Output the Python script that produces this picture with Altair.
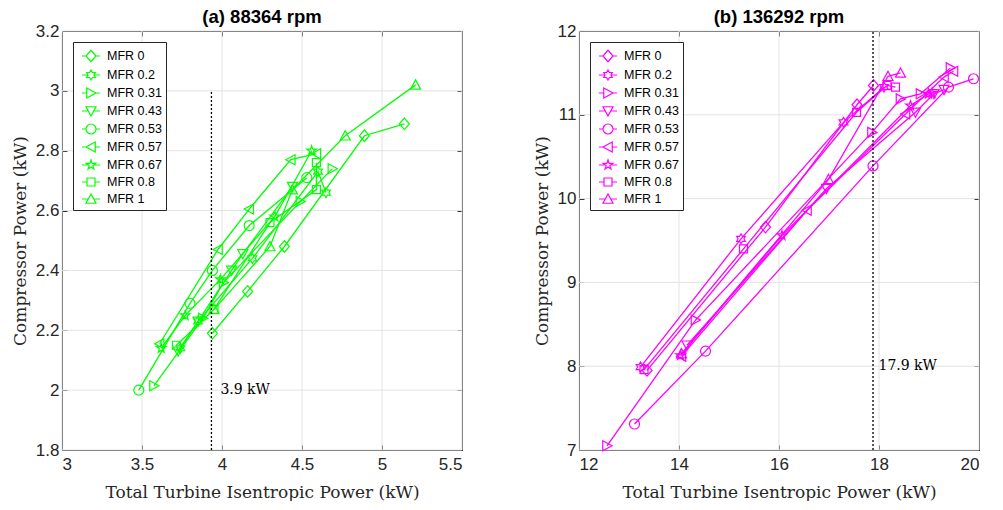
import re
import altair as alt
import pandas as pd

SERIES = ["MFR 0", "MFR 0.2", "MFR 0.31", "MFR 0.43", "MFR 0.53",
          "MFR 0.57", "MFR 0.67", "MFR 0.8", "MFR 1"]

# ---- panel (a) 88364 rpm ----
left_x = {
    "MFR 0":    [3.94, 4.16, 4.39, 4.89, 5.14],
    "MFR 0.2":  [3.74, 3.85, 4.19, 4.60, 4.65],
    "MFR 0.31": [3.575, 3.88, 4.01, 4.49, 4.69],
    "MFR 0.43": [3.725, 3.85, 4.06, 4.13, 4.44],
    "MFR 0.53": [3.48, 3.80, 3.94, 4.17, 4.53],
    "MFR 0.57": [3.61, 3.975, 4.17, 4.43, 4.59],
    "MFR 0.67": [3.62, 3.77, 3.99, 4.33, 4.56],
    "MFR 0.8":  [3.715, 3.95, 4.30, 4.59, 4.59],
    "MFR 1":    [3.95, 4.30, 4.44, 4.77, 5.21],
}
left_y = {
    "MFR 0":    [2.19, 2.33, 2.48, 2.85, 2.89],
    "MFR 0.2":  [2.14, 2.23, 2.44, 2.73, 2.66],
    "MFR 0.31": [2.015, 2.24, 2.36, 2.63, 2.74],
    "MFR 0.43": [2.13, 2.23, 2.40, 2.455, 2.68],
    "MFR 0.53": [2.0, 2.29, 2.40, 2.55, 2.71],
    "MFR 0.57": [2.155, 2.47, 2.605, 2.77, 2.79],
    "MFR 0.67": [2.14, 2.25, 2.37, 2.58, 2.80],
    "MFR 0.8":  [2.15, 2.27, 2.56, 2.67, 2.76],
    "MFR 1":    [2.27, 2.48, 2.67, 2.85, 3.02],
}
left_x_ticks = [3, 3.5, 4, 4.5, 5, 5.5]
left_y_ticks = [1.8, 2, 2.2, 2.4, 2.6, 2.8, 3, 3.2]
left_vline = [3.934]
left_vline_y = [1.8, 3.0]
left_label = ["3.9 kW"]
left_label_pos = [3.99, 2.0]

# ---- panel (b) 136292 rpm ----
right_x = {
    "MFR 0":    [13.36, 15.73, 17.56, 17.89],
    "MFR 0.2":  [13.23, 15.24, 17.29, 18.10],
    "MFR 0.31": [12.56, 14.33, 17.86, 18.43, 18.83, 19.43],
    "MFR 0.43": [14.16, 16.95, 18.73, 19.10, 19.30],
    "MFR 0.53": [13.11, 14.53, 17.88, 19.39, 19.89],
    "MFR 0.57": [14.05, 16.56, 18.53, 19.30, 19.49],
    "MFR 0.67": [14.03, 16.06, 18.63, 18.99, 19.06],
    "MFR 0.8":  [13.30, 15.29, 17.55, 18.16, 18.33],
    "MFR 1":    [14.05, 16.99, 18.18, 18.43],
}
right_y = {
    "MFR 0":    [7.95, 9.66, 11.12, 11.35],
    "MFR 0.2":  [7.99, 9.52, 10.91, 11.33],
    "MFR 0.31": [7.05, 8.55, 10.79, 11.19, 11.25, 11.56],
    "MFR 0.43": [8.25, 10.12, 11.03, 11.25, 11.30],
    "MFR 0.53": [7.31, 8.18, 10.39, 11.33, 11.43],
    "MFR 0.57": [8.12, 9.86, 11.01, 11.45, 11.52],
    "MFR 0.67": [8.13, 9.56, 11.11, 11.25, 11.26],
    "MFR 0.8":  [7.96, 9.40, 11.03, 11.35, 11.33],
    "MFR 1":    [8.15, 10.23, 11.46, 11.50],
}
right_x_ticks = [12, 14, 16, 18, 20]
right_y_ticks = [7, 8, 9, 10, 11, 12]
right_vline = [17.88]
right_vline_y = [7, 12]
right_label = ["17.9 kW"]
right_label_pos = [17.99, 8.0]

# ---- marker shapes (unit box) ----
MARKERS = [
    "M0,-1.15L1,0L0,1.15L-1,0Z",
    "M0,-1L0.289,-0.5L0.866,-0.5L0.577,0L0.866,0.5L0.289,0.5L0,1L-0.289,0.5L-0.866,0.5L-0.577,0L-0.866,-0.5L-0.289,-0.5Z",
    "M-0.85,-1L1,0L-0.85,1Z",
    "M-1,-0.85L1,-0.85L0,1Z",
    "M-1,0A1,1,0,1,1,1,0A1,1,0,1,1,-1,0Z",
    "M0.85,-1L-1,0L0.85,1Z",
    "M0,-1L0.225,-0.309L0.951,-0.309L0.363,0.118L0.588,0.809L0,0.382L-0.588,0.809L-0.363,0.118L-0.951,-0.309L-0.225,-0.309Z",
    "M-0.8,-0.8L0.8,-0.8L0.8,0.8L-0.8,0.8Z",
    "M-1,0.85L1,0.85L0,-1Z",
]
STUB_ENDS = [(-1, 1), (-0.577, 0.577), (-0.85, 1), (-0.54, 0.54), (-1, 1),
             (-1, 0.85), (-0.525, 0.525), (-0.8, 0.8), (-0.54, 0.54)]


def _scaled(path, k):
    out = []
    for cmd, args in re.findall(r"([MLAZ])([^MLAZ]*)", path):
        nums = [float(v) for v in re.split(r"[ ,]+", args.strip()) if v]
        if cmd == "A":
            rx, ry, rot, la, sw, x, y = nums
            vals = [rx * k, ry * k, rot, int(la), int(sw), x * k, y * k]
            out.append("A" + ",".join(f"{v:.4g}" if isinstance(v, float)
                                      else str(v) for v in vals))
        elif cmd == "Z":
            out.append("Z")
        else:
            out.append(cmd + ",".join(f"{v * k:.4g}" for v in nums))
    return "".join(out)


K = 5 / 9
LEGEND_SYMBOLS = [
    f"M-1,0L{a * K:.4g},0M{b * K:.4g},0L1,0" + _scaled(m, K)
    for m, (a, b) in zip(MARKERS, STUB_ENDS)
]

AXIS_COLOR = "#262626"
GRID_COLOR = "#e3e3e3"


def build_df(xs, ys):
    rows = []
    for s in SERIES:
        for i, (xv, yv) in enumerate(zip(xs[s], ys[s])):
            rows.append({"series": s, "idx": i, "x": xv, "y": yv})
    return pd.DataFrame(rows)


def panel(xs, ys, color, xdom, ydom, xticks, yticks, vline, vline_y,
          label, label_pos, title):
    df = build_df(xs, ys)
    xs_ = alt.Scale(domain=xdom, nice=False, zero=False)
    ys_ = alt.Scale(domain=ydom, nice=False, zero=False)
    base = alt.Chart(df)

    vgrid = alt.Chart(pd.DataFrame({"g": xticks})).mark_rule(
        color=GRID_COLOR, strokeWidth=1).encode(
        x=alt.X("g:Q", scale=xs_, axis=None))
    hgrid = alt.Chart(pd.DataFrame({"g": yticks})).mark_rule(
        color=GRID_COLOR, strokeWidth=1).encode(
        y=alt.Y("g:Q", scale=ys_, axis=None))

    lines = base.mark_line(color=color, strokeWidth=1.3).encode(
        x=alt.X("x:Q", scale=xs_, axis=alt.Axis(
            values=xticks, format="~g", orient="bottom", grid=False,
            domain=False, ticks=True, tickSize=5, offset=-5,
            labelPadding=6, title="Total Turbine Isentropic Power (kW)",
            titlePadding=12)),
        y=alt.Y("y:Q", scale=ys_, axis=alt.Axis(
            values=yticks, format="~g", orient="left", grid=False,
            domain=False, ticks=True, tickSize=5, offset=-5,
            labelPadding=3, title="Compressor Power (kW)", titlePadding=6)),
        detail="series:N",
        order="idx:Q",
    )
    point_layers = []
    for s, m in zip(SERIES, MARKERS):
        point_layers.append(
            base.transform_filter(alt.datum.series == s).mark_point(
                filled=False, size=100, strokeWidth=1.2, color=color,
                opacity=1, shape=m).encode(
                x=alt.X("x:Q", scale=xs_, axis=None),
                y=alt.Y("y:Q", scale=ys_, axis=None),
            )
        )
    legend_layer = base.mark_point(filled=False, size=1, opacity=0,
                                   color=color).encode(
        x=alt.X("x:Q", scale=xs_, axis=None),
        y=alt.Y("y:Q", scale=ys_, axis=None),
        shape=alt.Shape("series:N",
                        scale=alt.Scale(domain=SERIES, range=LEGEND_SYMBOLS),
                        legend=alt.Legend(
                            title=None, orient="top-left", offset=11,
                            fillColor="white", strokeColor=AXIS_COLOR,
                            padding=4, labelFont="Liberation Sans",
                            labelFontSize=12.5, labelColor="black",
                            symbolSize=324, symbolStrokeWidth=1.2,
                            symbolStrokeColor=color,
                            symbolFillColor="transparent",
                            symbolOpacity=1, rowPadding=0,
                            symbolOffset=4, labelOffset=6)),
    )
    vdf = pd.DataFrame({"x": vline, "y0": [vline_y[0]], "y1": [vline_y[1]]})
    rule = alt.Chart(vdf).mark_rule(color="black", strokeWidth=1.3,
                                    strokeDash=[2, 2]).encode(
        x=alt.X("x:Q", scale=xs_, axis=alt.Axis(
            values=xticks, orient="top", labels=False, title=None,
            grid=False, domain=False, ticks=True, tickSize=5, offset=-5)),
        y=alt.Y("y0:Q", scale=ys_, axis=alt.Axis(
            values=yticks, orient="right", labels=False, title=None,
            grid=False, domain=False, ticks=True, tickSize=5, offset=-5)),
        y2="y1:Q",
    )
    tdf = pd.DataFrame({"x": [label_pos[0]], "y": [label_pos[1]],
                        "t": label})
    text = alt.Chart(tdf).mark_text(align="left", baseline="middle",
                                    font="DejaVu Serif", fontSize=14,
                                    color="black").encode(
        x=alt.X("x:Q", scale=xs_, axis=None),
        y=alt.Y("y:Q", scale=ys_, axis=None),
        text="t:N",
    )
    return alt.layer(vgrid, hgrid, lines, *point_layers, legend_layer, rule,
                     text).resolve_axis(x="independent", y="independent"
                     ).properties(
        width=400, height=419,
        title=alt.TitleParams(title, font="Liberation Sans", fontSize=18.5,
                              fontWeight="bold", anchor="middle", offset=-4,
                              color="black"))


left = panel(left_x, left_y, "#00FF00", [3, 5.5], [1.8, 3.2],
             left_x_ticks, left_y_ticks, left_vline, left_vline_y,
             left_label, left_label_pos, "(a) 88364 rpm")
right = panel(right_x, right_y, "#FF00FF", [12, 20], [7, 12],
              right_x_ticks, right_y_ticks, right_vline, right_vline_y,
              right_label, right_label_pos, "(b) 136292 rpm")

chart = alt.hconcat(left, right, spacing=69).resolve_scale(
    shape="independent").resolve_legend(shape="independent").properties(
    padding={"left": 10, "top": 7, "right": 0, "bottom": 0},
    background="white",
).configure_view(stroke=AXIS_COLOR, strokeWidth=1).configure_axis(
    labelFont="Liberation Sans", labelFontSize=17, labelColor=AXIS_COLOR,
    titleFont="DejaVu Serif", titleFontSize=17, titleFontWeight="normal",
    titleColor=AXIS_COLOR, tickColor=AXIS_COLOR,
)

chart.save("out.html", embed_options={"renderer": "svg", "actions": False})
